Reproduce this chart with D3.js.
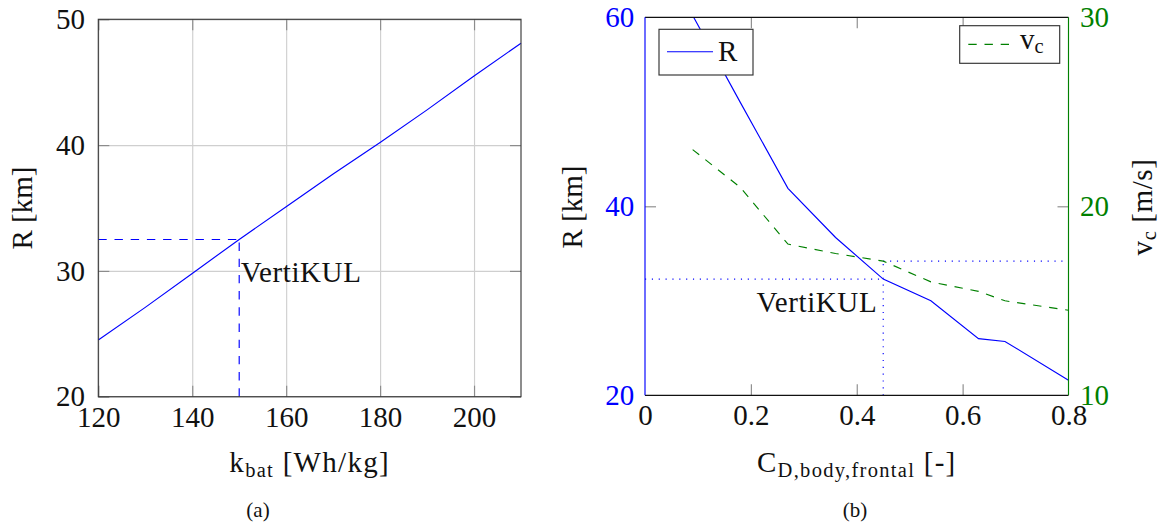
<!DOCTYPE html>
<html>
<head>
<meta charset="utf-8">
<script src="https://cdn.jsdelivr.net/npm/d3@7"></script>
<style>
  html, body { margin: 0; padding: 0; background: #fff; }
  svg { display: block; }
  svg text { font-family: "Liberation Serif", "Times New Roman", Tinos, "DejaVu Serif", "Noto Serif", serif !important; }
</style>
</head>
<body>
<svg id="chart" width="1174" height="526" font-family="Liberation Serif, Times New Roman, DejaVu Serif, serif"></svg>
<script>
// Panel (a): range versus battery specific energy
const kbat = [120, 130, 140, 150, 160, 170, 180, 190, 200, 210];
const rangeVsKbat = [24.5, 27.1, 29.8, 32.5, 35.1, 37.7, 40.2, 42.8, 45.5, 48.1];
const kbatTicks = [120, 140, 160, 180, 200];
const rangeTicksA = [20, 30, 40, 50];
const markerKbatIndex = 3;

// Panel (b): range and cruise speed versus frontal body drag coefficient
const cdFrontal = [0.09, 0.18, 0.27, 0.36, 0.45, 0.54, 0.63, 0.68, 0.8];
const rangeVsCd = [60.2, 51.0, 41.9, 36.7, 32.3, 30.0, 26.0, 25.7, 21.6];
const cruiseSpeed = [23.0, 21.0, 18.0, 17.5, 17.1, 16.0, 15.5, 15.0, 14.5];
const cdTicks = [0, 0.2, 0.4, 0.6, 0.8];
const rangeTicksB = [20, 40, 60];
const speedTicks = [10, 20, 30];
const markerCdIndex = 4;
const markerLabel = "VertiKUL";

const BLUE = "#0000ff", GREEN = "#008000", TICK = "#8c8c8c";
const FS = 29, TICK_LEN = 11, LW = 1.15;
const DASH = "8.4,7.8", DOT = "1.15,5.7";
const SERIF = "'Liberation Serif', 'Times New Roman', Tinos, 'DejaVu Serif', serif";

const svg = d3.select("#chart");

function plain(g) {
  g.attr("font-family", SERIF).attr("font-size", null);
  g.select(".domain").remove();
  return g;
}
function tickStyle(g) {
  plain(g);
  g.selectAll("line").attr("stroke", TICK).attr("stroke-width", LW);
  g.selectAll("text").remove();
}
function labelStyle(g, color, y, dy) {
  plain(g);
  g.selectAll("line").remove();
  const t = g.selectAll("text").attr("fill", color).style("font-size", FS + "px");
  if (y !== undefined) t.attr("y", y).attr("dy", dy);
}

/* ---------------- panel (a) ---------------- */
const xA = d3.scaleLinear().domain([120, 210]).range([98.3, 521]);
const yA = d3.scaleLinear().domain([20, 50]).range([396.7, 19.3]);
const [aL, aR] = xA.range(), [aB, aT] = yA.range();
const gA = svg.append("g");

// grid
gA.append("g").attr("transform", `translate(0,${aB})`)
  .call(d3.axisBottom(xA).tickValues(kbatTicks).tickSize(-(aB - aT)).tickFormat(""))
  .call(g => { plain(g); g.selectAll("line").attr("stroke", "#cfcfcf").attr("stroke-width", LW); });
gA.append("g").attr("transform", `translate(${aL},0)`)
  .call(d3.axisLeft(yA).tickValues(rangeTicksA).tickSize(-(aR - aL)).tickFormat(""))
  .call(g => { plain(g); g.selectAll("line").attr("stroke", "#cfcfcf").attr("stroke-width", LW); });

// tick marks on all four sides
gA.append("g").attr("transform", `translate(0,${aB})`)
  .call(d3.axisBottom(xA).tickValues(kbatTicks).tickSize(-TICK_LEN)).call(tickStyle);
gA.append("g").attr("transform", `translate(0,${aT})`)
  .call(d3.axisTop(xA).tickValues(kbatTicks).tickSize(-TICK_LEN)).call(tickStyle);
gA.append("g").attr("transform", `translate(${aL},0)`)
  .call(d3.axisLeft(yA).tickValues(rangeTicksA).tickSize(-TICK_LEN)).call(tickStyle);
gA.append("g").attr("transform", `translate(${aR},0)`)
  .call(d3.axisRight(yA).tickValues(rangeTicksA).tickSize(-TICK_LEN)).call(tickStyle);

// range curve
gA.append("path")
  .datum(kbat.map((k, i) => [k, rangeVsKbat[i]]))
  .attr("fill", "none").attr("stroke", BLUE).attr("stroke-width", LW)
  .attr("d", d3.line().x(d => xA(d[0])).y(d => yA(d[1])));

// VertiKUL reference lines
const mkA = [kbat[markerKbatIndex], rangeVsKbat[markerKbatIndex]];
gA.append("line")
  .attr("x1", xA(120)).attr("x2", xA(mkA[0])).attr("y1", yA(mkA[1])).attr("y2", yA(mkA[1]))
  .attr("stroke", BLUE).attr("stroke-width", LW).attr("stroke-dasharray", DASH);
gA.append("line")
  .attr("x1", xA(mkA[0])).attr("x2", xA(mkA[0])).attr("y1", yA(20)).attr("y2", yA(mkA[1]))
  .attr("stroke", BLUE).attr("stroke-width", LW).attr("stroke-dasharray", DASH);
gA.append("text").attr("x", xA(mkA[0]) + 1.5).attr("y", 281.7).attr("font-family", SERIF)
  .style("font-size", FS + "px").style("letter-spacing", "0.6px").attr("fill", "#111").text(markerLabel);

// frame
gA.append("rect").attr("x", aL).attr("y", aT).attr("width", aR - aL).attr("height", aB - aT)
  .attr("fill", "none").attr("stroke", "#3a3a3a").attr("stroke-width", LW);

// tick labels
gA.append("g").attr("transform", `translate(0,${aB})`)
  .call(d3.axisBottom(xA).tickValues(kbatTicks).tickSize(0))
  .call(g => labelStyle(g, "#111", 30.5, 0));
gA.append("g").attr("transform", `translate(${aL},0)`)
  .call(d3.axisLeft(yA).tickValues(rangeTicksA).tickSize(0).tickPadding(13.3))
  .call(g => labelStyle(g, "#111", undefined, undefined));

// axis titles
gA.append("text").attr("transform", "translate(32,208) rotate(-90)").attr("font-family", SERIF)
  .attr("text-anchor", "middle").style("font-size", FS + "px").attr("fill", "#111")
  .text("R [km]");
const xtA = gA.append("text").attr("x", (aL + aR) / 2).attr("y", 472).attr("font-family", SERIF)
  .attr("text-anchor", "middle").style("font-size", FS + "px").style("letter-spacing", "1.3px")
  .attr("fill", "#111");
xtA.append("tspan").text("k");
xtA.append("tspan").attr("dy", 5).style("font-size", "20.5px").text("bat");
xtA.append("tspan").attr("dy", -5).text(" [Wh/kg]");
gA.append("text").attr("x", 258).attr("y", 517).attr("text-anchor", "middle").attr("font-family", SERIF)
  .style("font-size", "21px").attr("fill", "#111").text("(a)");

/* ---------------- panel (b) ---------------- */
const xB = d3.scaleLinear().domain([0, 0.8]).range([645, 1068.5]);
const yBL = d3.scaleLinear().domain([20, 60]).range([395.3, 17.3]);
const yBR = d3.scaleLinear().domain([10, 30]).range([395.3, 17.3]);
const [bL, bR] = xB.range(), [bB, bT] = yBL.range();
const gB = svg.append("g");

svg.append("defs").append("clipPath").attr("id", "clipB")
  .append("rect").attr("x", bL).attr("y", bT).attr("width", bR - bL).attr("height", bB - bT);

// tick marks
gB.append("g").attr("transform", `translate(0,${bB})`)
  .call(d3.axisBottom(xB).tickValues(cdTicks.slice(1, -1)).tickSize(-TICK_LEN)).call(tickStyle);
gB.append("g").attr("transform", `translate(0,${bT})`)
  .call(d3.axisTop(xB).tickValues(cdTicks.slice(1, -1)).tickSize(-TICK_LEN)).call(tickStyle);
gB.append("g").attr("transform", `translate(${bL},0)`)
  .call(d3.axisLeft(yBL).tickValues(rangeTicksB.slice(1, -1)).tickSize(-TICK_LEN)).call(tickStyle);
gB.append("g").attr("transform", `translate(${bR},0)`)
  .call(d3.axisRight(yBR).tickValues(speedTicks.slice(1, -1)).tickSize(-TICK_LEN)).call(tickStyle);

const plotB = gB.append("g").attr("clip-path", "url(#clipB)");

// VertiKUL reference lines
const mkB = [cdFrontal[markerCdIndex], rangeVsCd[markerCdIndex], cruiseSpeed[markerCdIndex]];
plotB.append("line")
  .attr("x1", xB(0)).attr("x2", xB(mkB[0])).attr("y1", yBL(mkB[1])).attr("y2", yBL(mkB[1]))
  .attr("stroke", BLUE).attr("stroke-width", LW).attr("stroke-dasharray", DOT);
plotB.append("line")
  .attr("x1", xB(mkB[0])).attr("x2", xB(0.8)).attr("y1", yBR(mkB[2])).attr("y2", yBR(mkB[2]))
  .attr("stroke", BLUE).attr("stroke-width", LW).attr("stroke-dasharray", DOT);
plotB.append("line")
  .attr("x1", xB(mkB[0])).attr("x2", xB(mkB[0])).attr("y1", yBL(20)).attr("y2", yBR(mkB[2]))
  .attr("stroke", BLUE).attr("stroke-width", LW).attr("stroke-dasharray", DOT);

// range and cruise speed curves
plotB.append("path")
  .datum(cdFrontal.map((c, i) => [c, rangeVsCd[i]]))
  .attr("fill", "none").attr("stroke", BLUE).attr("stroke-width", LW)
  .attr("d", d3.line().x(d => xB(d[0])).y(d => yBL(d[1])));
plotB.append("path")
  .datum(cdFrontal.map((c, i) => [c, cruiseSpeed[i]]))
  .attr("fill", "none").attr("stroke", GREEN).attr("stroke-width", LW)
  .attr("stroke-dasharray", DASH)
  .attr("d", d3.line().x(d => xB(d[0])).y(d => yBR(d[1])));

gB.append("text").attr("x", xB(mkB[0]) - 6).attr("y", 311.7).attr("text-anchor", "end")
  .attr("font-family", SERIF).style("letter-spacing", "0.6px")
  .style("font-size", FS + "px").attr("fill", "#111").text(markerLabel);

// frame: black top/bottom, coloured side axes
gB.append("line").attr("x1", bL).attr("x2", bR).attr("y1", bT).attr("y2", bT)
  .attr("stroke", "#111").attr("stroke-width", LW);
gB.append("line").attr("x1", bL).attr("x2", bR).attr("y1", bB).attr("y2", bB)
  .attr("stroke", "#111").attr("stroke-width", LW);
gB.append("line").attr("x1", bL).attr("x2", bL).attr("y1", bT).attr("y2", bB)
  .attr("stroke", BLUE).attr("stroke-width", LW);
gB.append("line").attr("x1", bR).attr("x2", bR).attr("y1", bT).attr("y2", bB)
  .attr("stroke", GREEN).attr("stroke-width", LW);

// tick labels
gB.append("g").attr("transform", `translate(0,${bB})`)
  .call(d3.axisBottom(xB).tickValues(cdTicks).tickSize(0).tickFormat(d => d === 0 ? "0" : d3.format(".1f")(d)))
  .call(g => labelStyle(g, "#111", 30, 0));
gB.append("g").attr("transform", `translate(${bL},0)`)
  .call(d3.axisLeft(yBL).tickValues(rangeTicksB).tickSize(0).tickPadding(10.7))
  .call(g => labelStyle(g, BLUE, undefined, undefined));
gB.append("g").attr("transform", `translate(${bR},0)`)
  .call(d3.axisRight(yBR).tickValues(speedTicks).tickSize(0).tickPadding(11.5))
  .call(g => labelStyle(g, GREEN, undefined, undefined));

// legends
const legR = gB.append("g").attr("font-family", SERIF);
legR.append("rect").attr("x", 659).attr("y", 29.3).attr("width", 94).attr("height", 45.7)
  .attr("fill", "#fff").attr("stroke", "#333").attr("stroke-width", LW);
legR.append("line").attr("x1", 667).attr("x2", 713).attr("y1", 51.7).attr("y2", 51.7)
  .attr("stroke", BLUE).attr("stroke-width", LW);
legR.append("text").attr("x", 718).attr("y", 61).style("font-size", FS + "px")
  .attr("fill", "#111").text("R");

const legV = gB.append("g").attr("font-family", SERIF);
legV.append("rect").attr("x", 959.7).attr("y", 25.7).attr("width", 100).attr("height", 37.6)
  .attr("fill", "#fff").attr("stroke", "#333").attr("stroke-width", LW);
legV.append("line").attr("x1", 968.3).attr("x2", 1009).attr("y1", 44.3).attr("y2", 44.3)
  .attr("stroke", GREEN).attr("stroke-width", LW).attr("stroke-dasharray", DASH);
const lvText = legV.append("text").attr("x", 1020).attr("y", 49.3)
  .style("font-size", FS + "px").attr("fill", "#111");
lvText.append("tspan").text("v");
lvText.append("tspan").attr("dy", 4).style("font-size", "20.5px").text("c");

// axis titles
gB.append("text").attr("transform", "translate(582,207) rotate(-90)").attr("font-family", SERIF)
  .attr("text-anchor", "middle").style("font-size", FS + "px").attr("fill", "#111")
  .text("R [km]");
const ytR = gB.append("text").attr("transform", "translate(1152,207) rotate(-90)").attr("font-family", SERIF)
  .attr("text-anchor", "middle").style("font-size", FS + "px").style("letter-spacing", "0.6px")
  .attr("fill", "#111");
ytR.append("tspan").text("v");
ytR.append("tspan").attr("dy", 4).style("font-size", "20.5px").text("c");
ytR.append("tspan").attr("dy", -4).text(" [m/s]");

const xtB = gB.append("text").attr("x", (bL + bR) / 2).attr("y", 472).attr("font-family", SERIF)
  .attr("text-anchor", "middle").style("font-size", FS + "px").style("letter-spacing", "1.3px")
  .attr("fill", "#111");
xtB.append("tspan").text("C");
xtB.append("tspan").attr("dy", 5).style("font-size", "20.5px").text("D,body,frontal");
xtB.append("tspan").attr("dy", -5).text(" [-]");
gB.append("text").attr("x", 855).attr("y", 517).attr("text-anchor", "middle").attr("font-family", SERIF)
  .style("font-size", "21px").attr("fill", "#111").text("(b)");
</script>
</body>
</html>
